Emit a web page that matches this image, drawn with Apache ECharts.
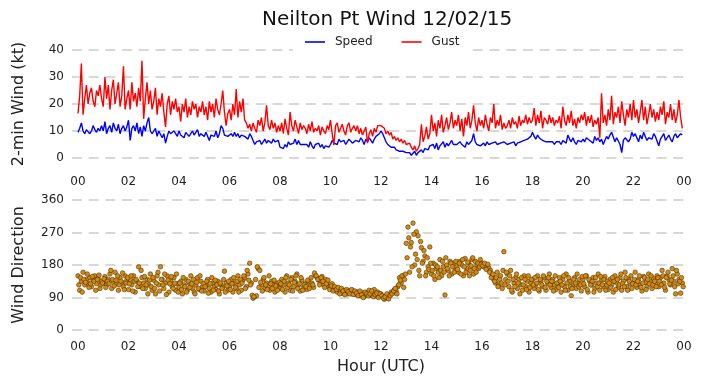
<!DOCTYPE html>
<html>
<head>
<meta charset="utf-8">
<script src="https://cdn.jsdelivr.net/npm/echarts@6/dist/echarts.min.js"></script>
<style>
html,body{margin:0;padding:0;background:#fff;}
#chart{width:702px;height:388px;}
</style>
</head>
<body>
<div id="chart"></div>
<script>
// sampling step of the observations (minutes), starting 00:00 UTC
const stepMinutes = 4;

const hourTicks = [0,2,4,6,8,10,12,14,16,18,20,22,24];
const hourLabels = ['00','02','04','06','08','10','12','14','16','18','20','22','00'];
const speedTicks = [0,10,20,30,40];
const dirTicks = [0,90,180,270,360];

// 2-min wind speed (kt), 15 samples per hour
const speed = [
 9.5,11,13,10,9,10.5,11,9,10,12,10.5,9.5,11,10,12,
 10,13.5,9,11,12,9.5,13,11,10,12.5,9,11,12,10,11.5,
 14,6.5,11,12,10,13,9,11.5,8,12,10,13,15,10,9,
 9,11,8,10,9.5,7.5,9,5.5,8,10,9,8.5,10,9,8,
 10,8.5,9,7.5,9.5,10,8,9,10,8.5,9,10.5,8,9,9.5,
 8,9.5,10,6.5,8.5,9,8,10,7.5,9,12,11,8.5,9,8,
 8.5,9,8,9.5,8,9,7.5,8.5,9,8,8.5,7,9,8,7.5,
 5,6,5.5,6.5,5,6,7,5.5,6.5,6,5.5,7,6,5.5,6.5,
 4,4.5,3.5,5,4,6,5,4.5,5.5,7,5,6.5,5,4.5,5,
 4.5,5,4,6,4.5,3.5,5,4.5,5.5,4,5,3.5,4.5,5,4,
 5,6.5,5.5,6,5,7,6,5.5,6.5,5,6,7,6.5,5.5,6,
 6.5,7,6,7.5,6.5,5,7,6,7.5,6.5,5.5,7,8,8.5,9,
 10,9,7.5,6,5,4.5,4,3.5,4,3,3.5,2.5,3,2.5,3,
 2,1.5,2,1,1.5,2.5,1,2,1.5,3,2,3.5,4,3,4.5,
 4,5,3.5,5.5,3,4.5,5,6,4,5.5,4.5,5,6.5,5,4.5,
 5,4.5,6,5,5.5,4,6,5,5.5,6.5,9,6,5,5.5,4.5,
 5,5.5,4.5,6,5,4.5,5.5,5,6,5,4.5,5.5,5,6,5.5,
 5,4.5,5.5,5,6,4.5,5.5,5,6,5.5,6.5,6,7,7.5,8,
 9.5,8,7,8.5,7.5,7,6.5,7,6,6.5,6,5.5,6,5,6,
 5.5,6,5,6.5,7,5.5,8.5,7,6,7.5,6,5,6.5,7,6,
 7,6,7.5,8,6.5,7,5.5,8,6.5,7.5,6,7,5,6.5,8,
 7,8.5,9.5,9,6,7.5,8,5,2,6.5,7.5,8,6,7,9.5,
 8,9,7.5,6,8.5,7,9.5,8,6.5,7.5,8,7,9,8,7.5,
 4.5,7,8,9,6.5,7.5,8.5,7,6,8,9,7.5,8,9,8.5
];

// gust (kt), 15 samples per hour
const gust = [
 16.5,23,35,16,22,27,20,24,26,21,19,25,23,27,22,
 19,30,22,27,18,25,29,20,24,28,19,23,34,18,22,
 25,18,28,21,24,19,26,21,36,14.5,22,28,20,25,18,
 21,26,16,22,19,24,17,11.5,20,23,16,21,18,22,17,
 19,13.5,20,17,22,15,19,16,21,18,20,15,19,17,21,
 16,19,14,21,17,20,15,22,18,16,20,25,17,12,16.5,
 18,14,20,16,25.5,15,21,17,22,14,13,11,12.5,10,13,
 11,9.5,14,12,15,10,13,19.5,12,10.5,14,11,13,9.5,12,
 10,13,9,14.5,11,8.5,17,12,10,14,11.5,9,13,10.5,12,
 11,9,12.5,10,13.5,9.5,11,10,12,8.5,11.5,10,9,12,10.5,
 14,9,4.8,12,13,9.5,11,12.5,10,8.5,12,13,9.5,11,12,
 10,12,9,11,8.5,10,11.5,5.5,9,10.5,8,11,9.5,12,11.5,
 12,12.5,11,9,10,8.5,9.5,7,8,6.5,7.5,6,7,5.5,6.5,
 5,4.5,5.5,4,3,4.5,2.5,3.5,5,12.5,6,8,11.5,7,9,
 16,10,13,8,14,11,16,9.5,12,15,10.5,13,17,11,14,
 12,16,10,14.5,8,15,12,17,11,14,19.5,13,10,15,12,
 14,11,16,12.5,10,15,13,20,11,14,12,16,10.5,13,11,
 12,14,11,15,12.5,13.5,11,15.5,12,14,13,16,12.5,15,13,
 14,18.5,12,16,13,17.5,11,15,14,12.5,16,13,15,12,14,
 13,15.5,11,19,14,12,16,13,17.5,12,14.5,11,15,13,16,
 14,17,12,15.5,13,16,11.5,14,12.5,15,7.5,24,13,16,12,
 18,14,23,12.5,17,15,19,13,21,16,12,18,15,20,14,
 21.5,15,18,13,17,21.5,14,19,12.5,16,20,15,18,13.5,17,
 14,19,16,21,12.5,17,15,20,14,18,13,16,21.5,15,11
];

// wind direction (degrees) on the 4-min marks, 15 per hour
const direction = [
 150,110,135,160,125,140,130,145,120,138,150,128,142,115,135,
 130,148,125,140,155,115,135,160,128,110,145,132,120,150,138,
 112,140,125,150,105,135,175,120,145,130,115,140,125,155,110,
 138,100,150,125,175,140,115,130,150,105,135,120,145,110,128,
 118,135,100,125,140,110,130,150,115,105,125,145,112,135,120,
 108,125,140,115,105,130,120,112,135,100,125,118,163,130,110,
 122,140,105,130,115,150,125,110,138,145,120,155,185,130,88,
 92,95,170,165,125,140,115,130,120,110,135,125,105,128,118,
 115,140,125,105,150,130,110,145,120,135,155,125,108,138,118,
 128,112,135,122,130,118,152,145,138,130,148,125,140,132,120,
 118,128,110,115,105,112,108,102,110,105,100,108,104,110,102,
 98,105,100,95,102,92,98,104,110,96,100,112,95,105,98,
 100,92,85,95,90,98,105,102,112,108,120,145,130,150,140,
 240,285,160,242,296,180,272,261,150,228,190,205,160,175,230,
 155,185,140,170,160,195,150,175,97,180,165,190,155,185,170,
 175,160,190,180,150,198,170,185,165,195,155,190,180,170,195,
 185,175,180,178,172,165,150,140,130,160,125,150,115,217,140,
 155,120,165,105,130,145,115,140,125,110,150,120,135,105,130,
 140,115,125,150,108,135,120,145,110,130,155,118,140,125,112,
 130,145,105,140,120,155,110,135,95,125,145,115,130,140,108,
 140,120,150,105,135,125,145,115,130,155,110,138,120,148,125,
 112,140,125,105,150,130,118,145,110,135,160,120,140,128,115,
 130,160,118,140,125,108,148,132,120,155,135,115,142,128,150,
 120,145,165,130,110,150,140,125,170,135,100,155,140,102,130
];

// wind direction (degrees) half-way between the 4-min marks, 15 per hour
const directionMid = [
 125,145,105,140,132,155,118,128,148,135,110,140,152,125,130,
 142,118,135,128,165,140,122,138,150,125,135,158,112,130,145,
 128,150,108,135,140,120,130,165,115,148,125,100,138,120,145,
 115,130,160,108,140,125,155,98,138,128,148,115,130,155,105,
 130,112,145,120,105,135,118,128,140,100,132,115,150,108,128,
 120,135,102,128,145,110,138,125,108,130,115,140,105,122,135,
 112,128,145,118,135,105,140,130,150,115,165,138,125,96,92,
 140,175,118,132,108,145,125,112,150,128,115,138,122,110,132,
 128,112,135,145,118,125,140,108,132,150,115,128,145,110,125,
 120,138,115,145,125,158,150,140,125,145,135,118,128,138,112,
 122,108,120,112,118,100,115,108,98,112,106,100,112,98,108,
 102,95,108,98,90,105,100,94,100,108,92,98,102,90,100,
 95,88,92,100,86,95,100,108,115,100,125,138,150,118,155,
 200,255,230,175,265,210,195,165,245,185,220,150,200,168,185,
 165,150,180,175,145,165,190,160,200,170,150,185,175,160,190,
 168,185,155,195,175,160,188,150,178,200,170,160,185,175,182,
 178,185,168,182,160,145,155,135,145,120,140,130,165,125,160,
 135,150,110,140,120,155,130,100,145,125,140,112,150,118,140,
 125,145,130,112,140,125,150,118,135,145,125,135,108,150,130,
 118,135,125,150,110,130,145,120,115,140,130,155,120,125,148,
 128,150,112,140,125,135,105,145,120,130,148,125,140,110,135,
 130,118,145,135,112,140,125,155,128,120,145,110,135,150,128,
 140,125,135,150,118,130,145,112,140,128,150,125,135,120,145,
 135,125,150,118,145,160,128,138,150,120,165,128,135,145,120
];

const hourOf = i => i * stepMinutes / 60;
const speedData = speed.map((v, i) => [hourOf(i), v]);
const gustData = gust.map((v, i) => [hourOf(i), v]);
const dirData = direction.map((v, i) => [hourOf(i), v])
  .concat(directionMid.map((v, i) => [hourOf(i + 0.5), v]));

const FONT = 'DejaVu Sans';
const TXT = '#222222';
const xPad = 0.2376;

function hourFmt(v){
  const idx = hourTicks.indexOf(Math.round(v));
  return idx >= 0 ? hourLabels[idx] : '';
}

const splitLine = {show:true, lineStyle:{color:'#cccccc', width:1.5, type:[10,6.7]}};

const chart = echarts.init(document.getElementById('chart'), null, {renderer:'canvas'});
chart.setOption({
  animation:false,
  backgroundColor:'#ffffff',
  textStyle:{fontFamily:FONT, color:TXT},
  title:{
    text:'Neilton Pt Wind 12/02/15',
    left:257, top:5,
    textStyle:{fontFamily:FONT, fontSize:20, fontWeight:'normal', color:'#111'}
  },
  legend:{
    data:['Speed','Gust'],
    left:293, top:31,
    padding:[5,10,5,12],
    backgroundColor:'#ffffff',
    icon:'rect',
    itemWidth:20, itemHeight:1.6,
    itemGap:29,
    textStyle:{fontFamily:FONT, fontSize:12, color:TXT, padding:[0,0,0,5]}
  },
  grid:[
    {left:72, right:12, top:50, height:108},
    {left:72, right:12, top:200, height:130}
  ],
  xAxis:[
    {gridIndex:0, type:'value', min:-xPad, max:24+xPad,
     axisLine:{show:false}, axisTick:{show:false}, splitLine:{show:false},
     axisLabel:{customValues:hourTicks, formatter:hourFmt, margin:18, fontFamily:FONT, fontSize:12, color:TXT}},
    {gridIndex:1, type:'value', min:-xPad, max:24+xPad,
     axisLine:{show:false}, axisTick:{show:false}, splitLine:{show:false},
     axisLabel:{customValues:hourTicks, formatter:hourFmt, margin:11, fontFamily:FONT, fontSize:12, color:TXT},
     name:'Hour (UTC)', nameLocation:'middle', nameGap:29,
     nameTextStyle:{fontFamily:FONT, fontSize:16, color:TXT}}
  ],
  yAxis:[
    {gridIndex:0, type:'value', min:speedTicks[0], max:speedTicks[speedTicks.length-1], interval:10,
     axisLine:{show:false}, axisTick:{show:false}, splitLine:splitLine,
     axisLabel:{margin:8, fontFamily:FONT, fontSize:12, color:TXT},
     name:'2-min Wind (kt)', nameLocation:'middle', nameGap:45,
     nameTextStyle:{fontFamily:FONT, fontSize:16, color:TXT}},
    {gridIndex:1, type:'value', min:dirTicks[0], max:dirTicks[dirTicks.length-1], interval:90,
     axisLine:{show:false}, axisTick:{show:false}, splitLine:splitLine,
     axisLabel:{margin:8, fontFamily:FONT, fontSize:12, color:TXT},
     name:'Wind Direction', nameLocation:'middle', nameGap:45,
     nameTextStyle:{fontFamily:FONT, fontSize:16, color:TXT}}
  ],
  series:[
    {name:'Speed', type:'line', xAxisIndex:0, yAxisIndex:0, data:speedData,
     showSymbol:false, symbol:'none', color:'#0000ff', lineStyle:{color:'#0000ff', width:1.4}},
    {name:'Gust', type:'line', xAxisIndex:0, yAxisIndex:0, data:gustData,
     showSymbol:false, symbol:'none', color:'#ff0000', lineStyle:{color:'#ff0000', width:1.4}},
    {name:'Direction', type:'scatter', xAxisIndex:1, yAxisIndex:1, data:dirData,
     symbolSize:4.6, itemStyle:{color:'#dc8a00', borderColor:'#222', borderWidth:0.5, opacity:1}}
  ]
});
</script>
</body>
</html>
